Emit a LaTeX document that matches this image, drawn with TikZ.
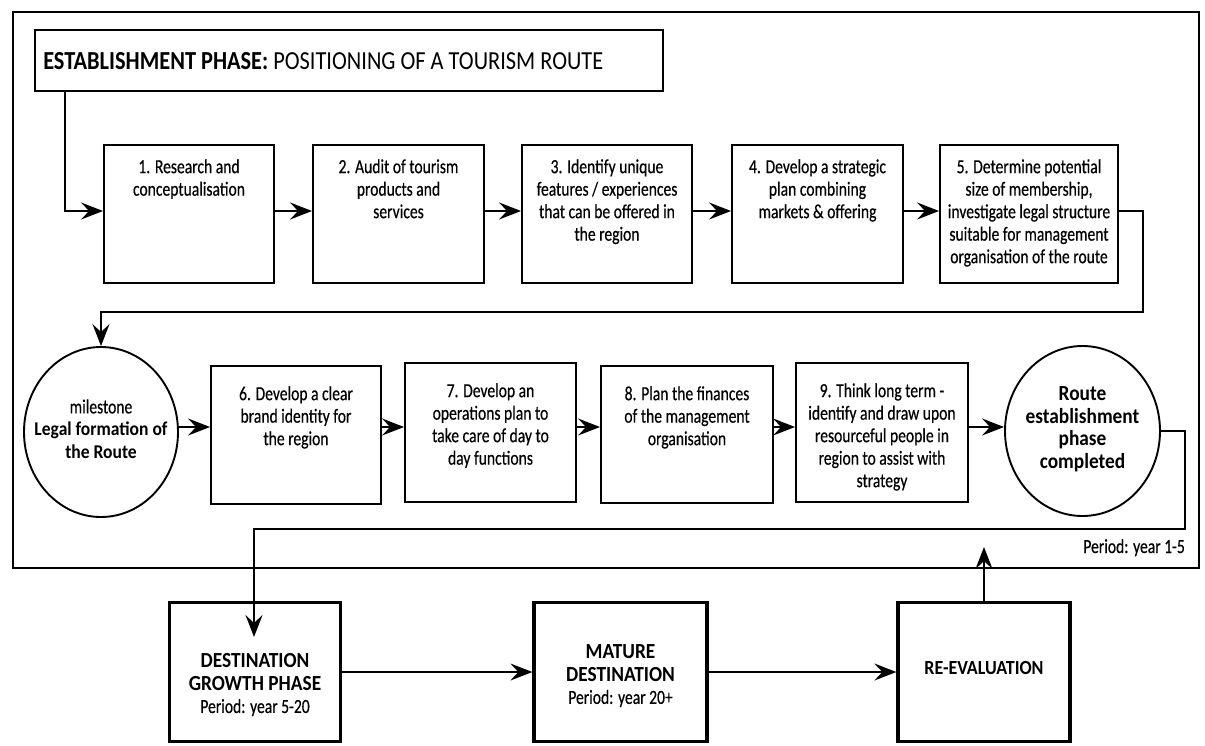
\documentclass[tikz,border=0pt]{standalone}
\usepackage{fontspec}
\setmainfont{Carlito}[FakeStretch=0.78, FakeBold=0.4]
\newfontfamily\heavyfont{Carlito}[FakeStretch=0.86]
\newfontfamily\condbold{Carlito}[FakeStretch=0.9]
\usetikzlibrary{arrows.meta,shapes.geometric}

\newcommand{\txtsz}{\fontsize{20}{22.5}\selectfont}
\newcommand{\heavy}{\condbold\bfseries\fontsize{21.5}{22.5}\selectfont}
\newcommand{\heavysm}{\condbold\bfseries\fontsize{19.5}{22.5}\selectfont}

\tikzset{
  framebox/.style={draw, line width=1.9pt, inner sep=0pt},
  stepbox/.style={draw, line width=1.9pt, minimum width=170pt, minimum height=138pt, inner sep=0pt},
  phasebox/.style={draw, line width=3.2pt, minimum width=171pt, minimum height=139pt, inner sep=0pt},
  milestone/.style={draw, ellipse, line width=1.9pt, minimum width=154pt, minimum height=170pt, inner sep=0pt},
  toptext/.style={anchor=north, yshift=-15pt, align=center, inner sep=0pt, font=\txtsz},
  midtext/.style={anchor=north, yshift=-21pt, align=center, inner sep=0pt, font=\txtsz},
  centtext/.style={anchor=center, align=center, inner sep=0pt, font=\txtsz},
  arr/.style={line width=1.9pt, -{Stealth[length=22pt,width=17pt,inset=8pt]}},
}

\begin{document}
\begin{tikzpicture}[x=1pt,y=-1pt]
\useasboundingbox (0,0) rectangle (1205,745);
\fill[white] (0,0) rectangle (1205,745);

% establishment phase container
\node[framebox, minimum width=1186pt, minimum height=556pt] (frame) at (606,290) {};
\node[framebox, minimum width=628pt, minimum height=61pt,
      label={[anchor=west, xshift=9pt, yshift=-1pt, inner sep=0pt, font=\heavyfont\fontsize{26}{28}\selectfont]west:{\bfseries ESTABLISHMENT PHASE:} POSITIONING OF A TOURISM ROUTE}]
      (title) at (349,60.5) {};

% first row of steps
\node[stepbox, label={[toptext]north:1. Research and\\conceptualisation}] (b1) at (189,214) {};
\node[stepbox, minimum width=171pt, label={[toptext]north:2. Audit of tourism\\products and\\services}] (b2) at (398.5,214) {};
\node[stepbox, label={[toptext]north:3. Identify unique\\features / experiences\\that can be offered in\\the region}] (b3) at (607,214) {};
\node[stepbox, minimum width=171pt, label={[toptext]north:4. Develop a strategic\\plan combining\\markets \& offering}] (b4) at (817.5,214) {};
\node[stepbox, minimum width=178pt, label={[toptext]north:5. Determine potential\\size of membership,\\investigate legal structure\\suitable for management\\organisation of the route}] (b5) at (1029,214) {};

% second row of steps
\node[milestone, label={[centtext, yshift=3pt]center:milestone\\{\heavysm Legal formation of}\\{\heavysm the Route}}] (c1) at (101,432) {};
\node[stepbox, label={[midtext]north:6. Develop a clear\\brand identity for\\the region}] (b6) at (296,435) {};
\node[stepbox, minimum width=171pt, minimum height=139pt, label={[midtext]north:7. Develop an\\operations plan to\\take care of day to\\day functions}] (b7) at (490.5,432.5) {};
\node[stepbox, minimum width=172pt, minimum height=137pt, label={[midtext]north:8. Plan the finances\\of the management\\organisation}] (b8) at (687,434.5) {};
\node[stepbox, minimum width=172pt, minimum height=139pt, label={[midtext]north:9. Think long term -\\identify and draw upon\\resourceful people in\\region to assist with\\strategy}] (b9) at (882,432.5) {};
\node[milestone, minimum width=155pt, label={[centtext, yshift=2pt]center:{\heavy Route}\\{\heavy establishment}\\{\heavy phase}\\{\heavy completed}}] (c2) at (1082.5,431) {};

\node[anchor=base east, inner sep=0pt, font=\txtsz] (period) at (1185,553) {Period: year 1-5};

% later phases
\node[phasebox, label={[centtext, yshift=-13pt]center:{\heavy DESTINATION}\\{\heavy GROWTH PHASE}\\Period: year 5-20}] (grow) at (255,672) {};
\node[phasebox, minimum width=173pt, label={[centtext, yshift=-4pt]center:{\heavy MATURE}\\{\heavy DESTINATION}\\Period: year 20+}] (mature) at (620.5,672) {};
\node[phasebox, minimum width=172pt, label={[centtext, yshift=4pt]center:{\condbold\bfseries\fontsize{20}{22.5}\selectfont RE-EVALUATION}}] (reeval) at (984,672) {};

% turning points of the connectors
\coordinate (row1) at (0,211);
\coordinate (row2) at (0,427);
\coordinate (bend1) at (1143,312);
\coordinate (bend2) at (1185,529);
\coordinate (growtip) at (254,637);
\coordinate (backtip) at (984,547);

% connectors
\draw[arr] ([xshift=31pt]title.south west) |- (b1.west |- row1);
\draw[arr] (b1.east |- row1) -- (b2.west |- row1);
\draw[arr] (b2.east |- row1) -- (b3.west |- row1);
\draw[arr] (b3.east |- row1) -- (b4.west |- row1);
\draw[arr] (b4.east |- row1) -- (b5.west |- row1);
\draw[arr] (b5.east |- row1) -| (bend1) -| (c1.north);

\draw[arr] (c1.east |- row2) -- (b6.west |- row2);
\draw[arr] (b6.east |- row2) -- (b7.west |- row2);
\draw[arr] (b7.east |- row2) -- (b8.west |- row2);
\draw[arr] (b8.east |- row2) -- (b9.west |- row2);
\draw[arr] (b9.east |- row2) -- (c2.west |- row2);
\draw[arr] (c2.east) -| (bend2) -| (growtip);

\draw[arr] (grow.east) -- (mature.west);
\draw[arr] (mature.east) -- (reeval.west);
\draw[arr] (reeval.north) -- (backtip);
\end{tikzpicture}
\end{document}
